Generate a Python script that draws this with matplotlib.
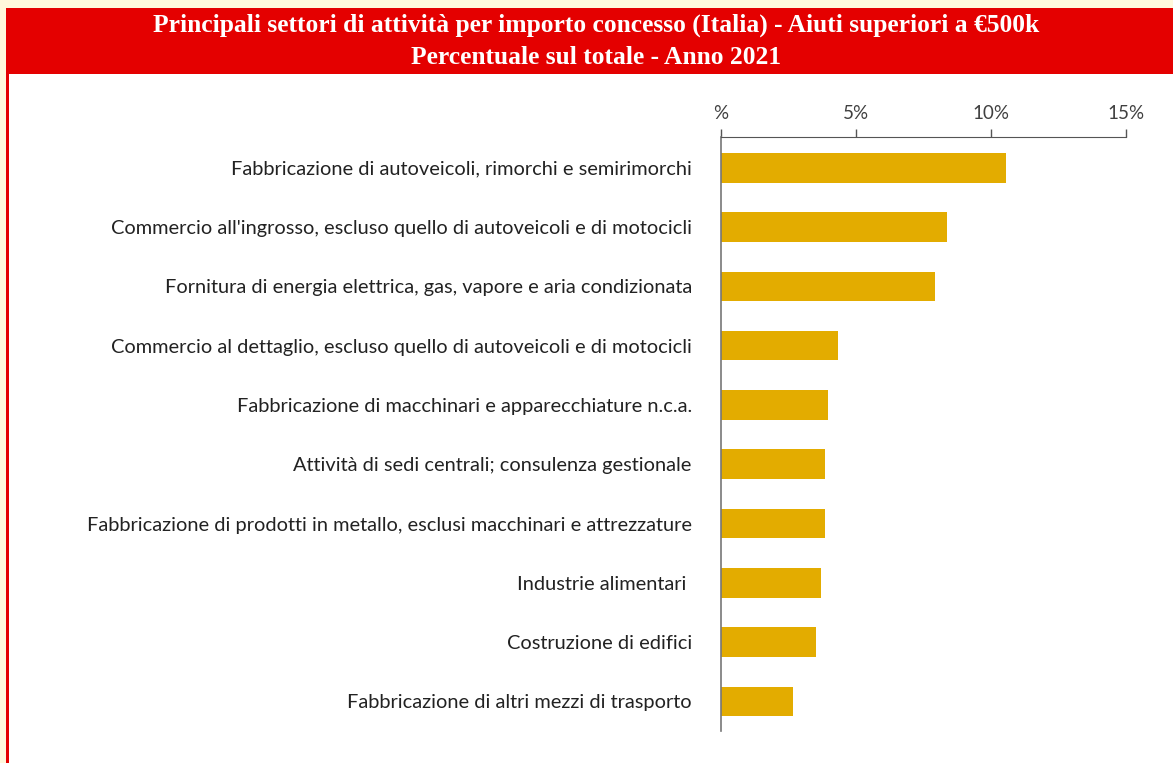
import matplotlib
matplotlib.use('agg')
import matplotlib.pyplot as plt
from matplotlib.patches import Rectangle

# sectors, top to bottom, with share of total amount (%)
settori = [
    "Fabbricazione di autoveicoli, rimorchi e semirimorchi",
    "Commercio all'ingrosso, escluso quello di autoveicoli e di motocicli",
    "Fornitura di energia elettrica, gas, vapore e aria condizionata",
    "Commercio al dettaglio, escluso quello di autoveicoli e di motocicli",
    "Fabbricazione di macchinari e apparecchiature n.c.a.",
    "Attività di sedi centrali; consulenza gestionale",
    "Fabbricazione di prodotti in metallo, esclusi macchinari e attrezzature",
    "Industrie alimentari ",
    "Costruzione di edifici",
    "Fabbricazione di altri mezzi di trasporto",
]
percentuali = [10.56, 8.37, 7.93, 4.33, 3.96, 3.85, 3.85, 3.70, 3.52, 2.67]
tick_valori = [0, 5, 10, 15]
tick_etichette = ["%", "5%", "10%", "15%"]

titolo = ("Principali settori di attività per importo concesso (Italia) - Aiuti superiori a €500k\n"
          "Percentuale sul totale - Anno 2021")

W, H = 1173, 763
fig = plt.figure(figsize=(W / 100, H / 100), dpi=100)
fig.patch.set_facecolor('#FFF8DC')

# frame: white panel, red header band and left red border
fig.patches.append(Rectangle((6 / W, 0), 1 - 6 / W, 1 - 8 / H, transform=fig.transFigure,
                             facecolor='white', edgecolor='none', zorder=-2))
fig.patches.append(Rectangle((6 / W, 1 - 74 / H), 1 - 6 / W, 66 / H, transform=fig.transFigure,
                             facecolor='#E40000', edgecolor='none', zorder=-1))
fig.patches.append(Rectangle((6 / W, 0), 2.5 / W, 1 - 8 / H, transform=fig.transFigure,
                             facecolor='#E40000', edgecolor='none', zorder=-1))

fig.text(596 / W, 1 - 41 / H, titolo, ha='center', va='center', color='white',
         fontsize=18.4, fontweight='bold', family='Liberation Serif', linespacing=1.5)

# axes: x=0 at px 721, 15% at px 1126; axis line at y=137, bottom at y=731
x0, x1 = 721, 1126
y_top, y_bot = 137, 731
ax = fig.add_axes([x0 / W, 1 - y_bot / H, (x1 - x0) / W, (y_bot - y_top) / H])
ax.set_facecolor('none')
ax.set_zorder(5)

y = list(range(len(settori)))
ax.barh(y, percentuali, height=0.5, color='#E3AC00', zorder=2)
ax.set_xlim(0, 15)
ax.set_ylim(len(settori) - 0.5 + 0.0, -0.5 - 0.02)

ax.xaxis.tick_top()
ax.set_xticks(tick_valori)
ax.set_xticklabels(tick_etichette)
ax.tick_params(axis='x', direction='out', length=6, width=1, color='#555555',
               labelsize=13.5, labelcolor='#404040', pad=5)
for lab in ax.get_xticklabels():
    lab.set_family('Lato')

ax.set_yticks(y)
ax.set_yticklabels(settori, family='Lato', fontsize=14.4, color='#222222')
ax.tick_params(axis='y', length=0, pad=21)

for s in ['right', 'bottom']:
    ax.spines[s].set_visible(False)
ax.spines['top'].set_color('#555555')
ax.spines['left'].set_color('#777777')
ax.spines['left'].set_linewidth(1.2)

fig.savefig('out.png', dpi=100, facecolor=fig.get_facecolor())
